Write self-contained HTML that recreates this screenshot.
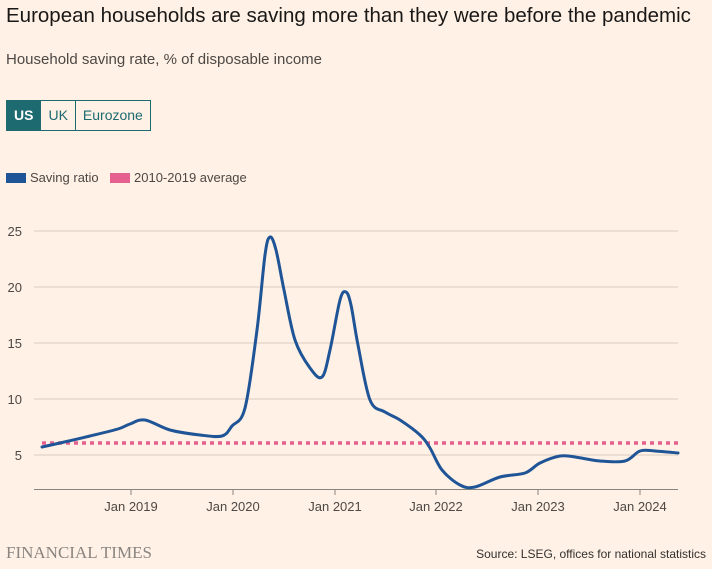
<!DOCTYPE html>
<html><head><meta charset="utf-8"><style>
body{margin:0;width:712px;height:569px;background:#fff1e5;font-family:"Liberation Sans",sans-serif;overflow:hidden;position:relative;color:#33302e}
.t{position:absolute;left:6px;top:4px;font-size:20.5px;color:#1a1817}
.s{position:absolute;left:6px;top:51px;font-size:15px;color:#4d4845}
.btns{position:absolute;left:6px;top:100px;display:flex;height:31px;border:1px solid #1d6a70;box-sizing:border-box}
.btns div{font-size:14px;line-height:29px;padding:0 7px;color:#1d6a70;border-left:1px solid #1d6a70}
.btns div:first-child{border-left:none;background:#1d6a70;color:#fff;font-weight:bold}
.lg{position:absolute;top:170px;font-size:13px;color:#4d4845}
.sw{display:inline-block;width:20px;height:10px;vertical-align:-1px;margin-right:4px}
</style></head><body>
<div class="t">European households are saving more than they were before the pandemic</div>
<div class="s">Household saving rate, % of disposable income</div>
<div class="btns"><div>US</div><div>UK</div><div>Eurozone</div></div>
<div class="lg" style="left:6px"><span class="sw" style="background:#1f5597"></span>Saving ratio</div>
<div class="lg" style="left:110px"><span class="sw" style="background:#e5608e"></span>2010-2019 average</div>
<svg width="712" height="569" style="position:absolute;left:0;top:0" font-family="Liberation Sans,sans-serif">
<g stroke="#d9cbc0" stroke-width="1">
<line x1="34" x2="678" y1="231" y2="231"/><line x1="34" x2="678" y1="287" y2="287"/>
<line x1="34" x2="678" y1="343" y2="343"/><line x1="34" x2="678" y1="399" y2="399"/>
<line x1="34" x2="678" y1="455" y2="455"/></g>
<line x1="34" x2="678" y1="489.5" y2="489.5" stroke="#8a8480"/>
<g stroke="#8a8480"><line x1="131" x2="131" y1="489" y2="495"/><line x1="233" x2="233" y1="489" y2="495"/><line x1="335" x2="335" y1="489" y2="495"/><line x1="436" x2="436" y1="489" y2="495"/><line x1="538" x2="538" y1="489" y2="495"/><line x1="640" x2="640" y1="489" y2="495"/></g>
<g font-size="13" fill="#4d4845" text-anchor="end"><text x="22" y="236">25</text><text x="22" y="292">20</text><text x="22" y="348">15</text><text x="22" y="404">10</text><text x="22" y="460">5</text></g>
<g font-size="13" fill="#4d4845" text-anchor="middle"><text x="131" y="511">Jan 2019</text><text x="233" y="511">Jan 2020</text><text x="335" y="511">Jan 2021</text><text x="436" y="511">Jan 2022</text><text x="538" y="511">Jan 2023</text><text x="640" y="511">Jan 2024</text></g>
<line x1="42" x2="678" y1="443" y2="443" stroke="#e5608e" stroke-width="3.5" stroke-dasharray="4,4"/>
<path id="p" fill="none" stroke="#1f5597" stroke-width="3" stroke-linejoin="round" stroke-linecap="round"/>
<text x="6" y="558" font-family="Liberation Serif,serif" font-size="17" fill="#8a8480">FINANCIAL TIMES</text>
<text x="706" y="558" font-size="12" fill="#33302e" text-anchor="end">Source: LSEG, offices for national statistics</text>
</svg>
<script>
var P=[[42,447],[60,443],[90,436],[118,429],[130,424],[145,420],[170,430],[200,435],[222,436],[232,426],[245,408],[257,330],[265,255],[270,237],[276,250],[284,290],[295,340],[310,368],[322,377],[330,350],[340,300],[346,292],[351,305],[358,345],[370,400],[385,412],[400,420],[420,435],[430,448],[442,470],[460,485],[475,487],[500,477],[525,473],[540,463],[560,456],[575,457],[600,461],[625,461],[640,451],[655,451],[678,453]];
var d="M"+P[0];
for(var i=0;i<P.length-1;i++){var a=P[Math.max(i-1,0)],b=P[i],c=P[i+1],e=P[Math.min(i+2,P.length-1)];
d+=" C"+(b[0]+(c[0]-a[0])/6)+","+(b[1]+(c[1]-a[1])/6)+" "+(c[0]-(e[0]-b[0])/6)+","+(c[1]-(e[1]-b[1])/6)+" "+c[0]+","+c[1];}
document.getElementById("p").setAttribute("d",d);
</script>
</body></html>
